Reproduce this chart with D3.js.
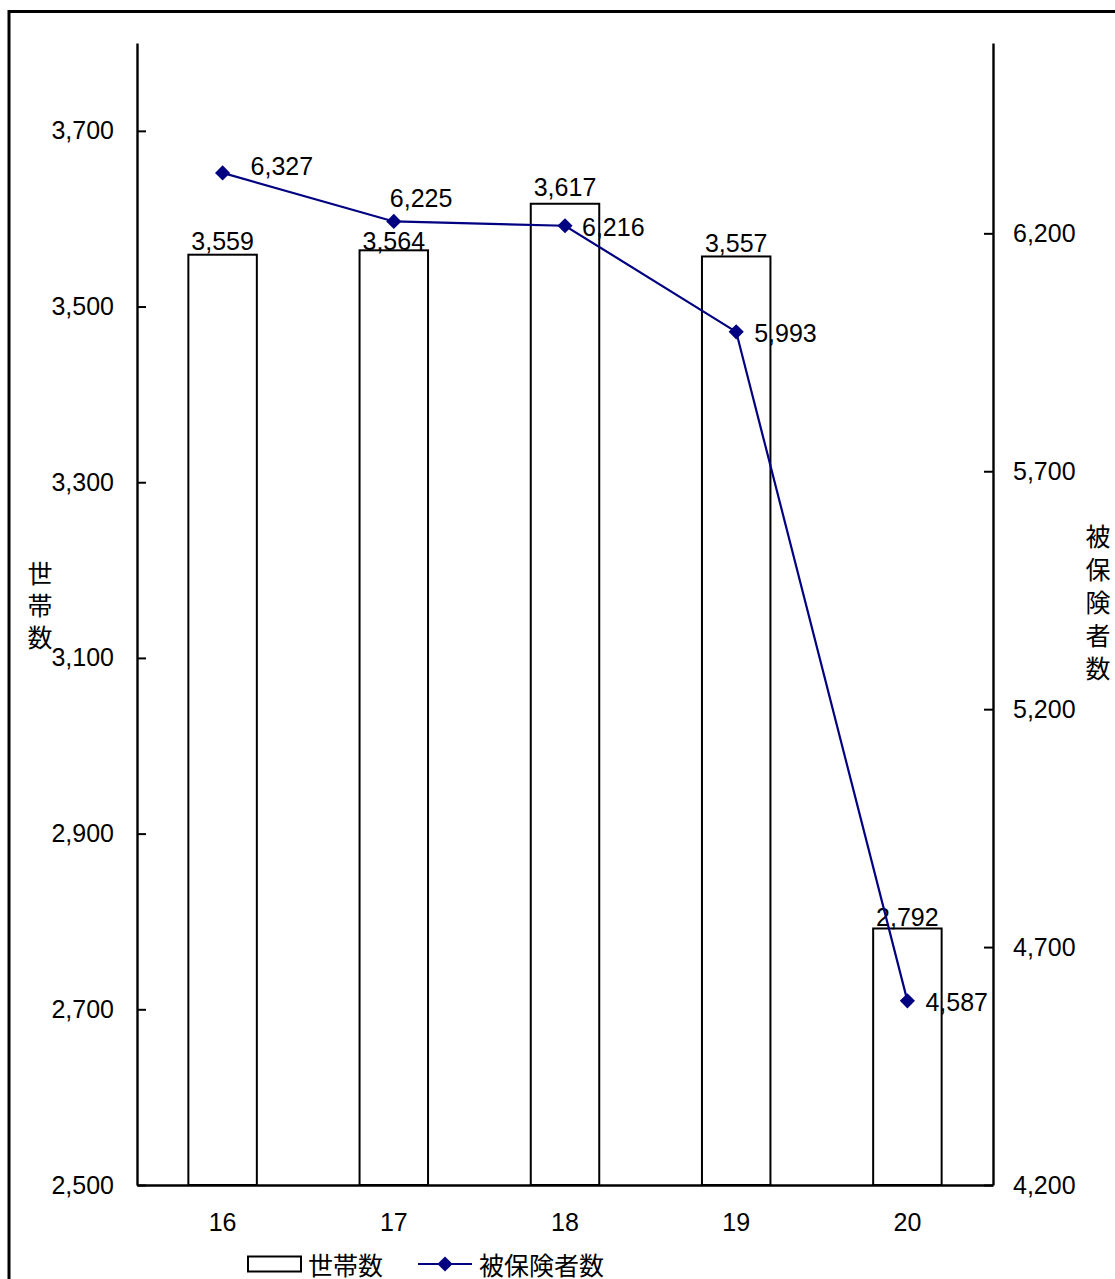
<!DOCTYPE html>
<html>
<head>
<meta charset="utf-8">
<script src="https://cdn.jsdelivr.net/npm/d3@7"></script>
<style>
  html, body { margin: 0; padding: 0; background: #fff; }
  svg { display: block; }
  text { font-family: "Liberation Sans", Arial, sans-serif; fill: #000; }
  .cjk { font-family: "Noto Sans CJK JP", "Noto Sans CJK SC", sans-serif; }
</style>
</head>
<body>
<svg id="chart" width="1115" height="1279"></svg>
<script>
// Fiscal years (category axis)
const years = ["16", "17", "18", "19", "20"];
// Households (bars, left axis)
const households = [3559, 3564, 3617, 3557, 2792];
// Insured persons (line, right axis)
const insured = [6327, 6225, 6216, 5993, 4587];
// Axis ticks
const leftTicks = [2500, 2700, 2900, 3100, 3300, 3500, 3700];
const rightTicks = [4200, 4700, 5200, 5700, 6200];
// Series names
const barName = "世帯数";
const lineName = "被保険者数";

// Label placement: vertical shift above each bar, [dx, dy] next to each line point
const barLabelDy = [-5, 0, -8, -4, -2];
const lineLabelOffsets = [[28, 2], [-4, -14], [17, 10], [18, 10], [18, 10]];

const svg = d3.select("#chart");
const plot = { left: 137, right: 993, top: 43, bottom: 1185 };
const navy = "#000080";
const fmt = d3.format(",");

// outer frame
svg.append("rect")
  .attr("x", 9).attr("y", 11.5)
  .attr("width", 1125).attr("height", 1290)
  .attr("fill", "none").attr("stroke", "#000").attr("stroke-width", 3);

const x = d3.scaleBand().domain(years)
  .range([plot.left, plot.right])
  .paddingInner(0.6).paddingOuter(0.3);
const yL = d3.scaleLinear().domain([2500, 3800]).range([plot.bottom, plot.top]);
const yR = d3.scaleLinear().domain([4200, 6600]).range([plot.bottom, plot.top]);

// bars
svg.append("g").selectAll("rect")
  .data(households)
  .join("rect")
  .attr("x", (d, i) => x(years[i]))
  .attr("y", d => yL(d))
  .attr("width", x.bandwidth())
  .attr("height", d => plot.bottom - yL(d))
  .attr("fill", "#fff").attr("stroke", "#000").attr("stroke-width", 2);

// bar value labels
svg.append("g").selectAll("text")
  .data(households)
  .join("text")
  .attr("x", (d, i) => x(years[i]) + x.bandwidth() / 2)
  .attr("y", (d, i) => yL(d) + barLabelDy[i])
  .attr("text-anchor", "middle")
  .attr("font-size", 25)
  .text(d => fmt(d));

// left axis
const axL = svg.append("g")
  .attr("transform", `translate(${plot.left},0)`)
  .call(d3.axisLeft(yL).tickValues(leftTicks).tickFormat(fmt).tickSizeInner(-9).tickSizeOuter(0).tickPadding(23));
axL.select(".domain").attr("stroke-width", 2.4);
axL.selectAll(".tick line").attr("stroke-width", 2);
axL.selectAll(".tick text").attr("font-size", 25).attr("font-family", "Liberation Sans, Arial, sans-serif");

// right axis
const axR = svg.append("g")
  .attr("transform", `translate(${plot.right},0)`)
  .call(d3.axisRight(yR).tickValues(rightTicks).tickFormat(fmt).tickSizeInner(-9).tickSizeOuter(0).tickPadding(20));
axR.select(".domain").attr("stroke-width", 2.4);
axR.selectAll(".tick line").attr("stroke-width", 2);
axR.selectAll(".tick text").attr("font-size", 25).attr("font-family", "Liberation Sans, Arial, sans-serif");

// bottom axis
const axB = svg.append("g")
  .attr("transform", `translate(0,${plot.bottom})`)
  .call(d3.axisBottom(x).tickSize(0).tickPadding(28));
axB.select(".domain").attr("stroke-width", 2.4);
axB.selectAll(".tick text").attr("font-size", 25).attr("font-family", "Liberation Sans, Arial, sans-serif");

// line series
const cx = i => x(years[i]) + x.bandwidth() / 2;
svg.append("path")
  .datum(insured)
  .attr("d", d3.line().x((d, i) => cx(i)).y(d => yR(d)))
  .attr("fill", "none").attr("stroke", navy).attr("stroke-width", 2.2);

const diamond = d3.symbol(d3.symbolSquare, 115);
svg.append("g").selectAll("path")
  .data(insured)
  .join("path")
  .attr("d", diamond)
  .attr("transform", (d, i) => `translate(${cx(i)},${yR(d)}) rotate(45)`)
  .attr("fill", navy);

svg.append("g").selectAll("text")
  .data(insured)
  .join("text")
  .attr("x", (d, i) => cx(i) + lineLabelOffsets[i][0])
  .attr("y", (d, i) => yR(d) + lineLabelOffsets[i][1])
  .attr("font-size", 25)
  .text(d => fmt(d));

// vertical axis titles
function verticalTitle(str, cxPos, cyStart, step) {
  svg.append("text").attr("class", "cjk")
    .attr("font-size", 25)
    .attr("text-anchor", "middle")
    .attr("dominant-baseline", "central")
    .selectAll("tspan")
    .data(Array.from(str))
    .join("tspan")
    .attr("x", cxPos)
    .attr("y", (d, i) => cyStart + i * step)
    .text(d => d);
}
verticalTitle(barName, 40, 572, 32);
verticalTitle(lineName, 1098, 535, 33);

// legend
const lg = svg.append("g");
lg.append("rect").attr("x", 248).attr("y", 1256.5).attr("width", 53).attr("height", 15)
  .attr("fill", "#fff").attr("stroke", "#000").attr("stroke-width", 2);
lg.append("text").attr("class", "cjk").attr("x", 308).attr("y", 1264)
  .attr("font-size", 25).attr("dominant-baseline", "central").text(barName);
lg.append("line").attr("x1", 418).attr("x2", 472).attr("y1", 1264).attr("y2", 1264)
  .attr("stroke", navy).attr("stroke-width", 2.2);
lg.append("path").attr("d", diamond).attr("transform", "translate(445,1264) rotate(45)").attr("fill", navy);
lg.append("text").attr("class", "cjk").attr("x", 479).attr("y", 1264)
  .attr("font-size", 25).attr("dominant-baseline", "central").text(lineName);
</script>
</body>
</html>
